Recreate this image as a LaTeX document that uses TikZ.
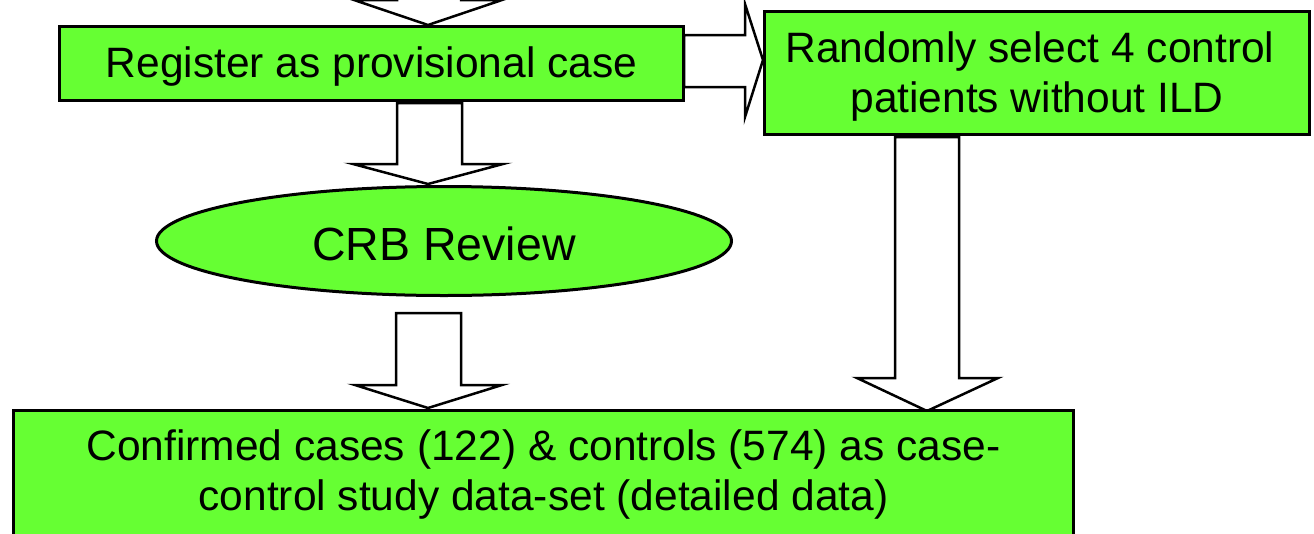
\documentclass[tikz,border=0pt]{standalone}
\usepackage{fontspec}
\setmainfont{Liberation Sans}
\usetikzlibrary{shapes.geometric}
\definecolor{boxgreen}{HTML}{66FF33}
\tikzset{
  box/.style={draw=black, line width=3pt, fill=boxgreen, inner sep=0pt, align=center, font=\fontsize{42.5}{50}\selectfont},
  oval/.style={ellipse, draw=black, line width=3pt, fill=boxgreen, inner sep=0pt, font=\fontsize{46.5}{56}\selectfont},
  blockarrow/.style={draw=black, line width=2.5pt, fill=white, line join=miter}
}
\begin{document}
\begin{tikzpicture}[x=1pt,y=-1pt]
\useasboundingbox (0,0) rectangle (1314,533);
\clip (0,0) rectangle (1314,533);
% block arrows (drawn first, boxes on top)
\draw[blockarrow] (397,-60) -- (397,0) -- (354,0) -- (428,25) -- (502,0) -- (461,0) -- (461,-60) -- cycle;
\draw[blockarrow] (397,103) -- (397,164) -- (353,164) -- (428,184) -- (503,164) -- (462,164) -- (462,103) -- cycle;
\draw[blockarrow] (396,313) -- (396,385) -- (355,385) -- (428,408) -- (502,385) -- (461,385) -- (461,313) -- cycle;
\draw[blockarrow] (895,137) -- (895,378) -- (857,378) -- (927,411) -- (998,378) -- (959,378) -- (959,137) -- cycle;
\draw[blockarrow] (684,35) -- (745,35) -- (745,4) -- (763,60) -- (745,117) -- (745,87) -- (684,87) -- cycle;
% boxes
\node[box, minimum width=624pt, minimum height=74pt, text height=30pt, text depth=3pt] (reg) at (371.5,63.5) {Register as provisional case};
\node[box, minimum width=545pt, minimum height=123pt, text height=80pt, text depth=2pt] (ctrl) at (1037,73) {Randomly select 4 control\kern14pt\\patients without ILD};
\node[oval, minimum width=575pt, minimum height=109pt, text height=38pt, text depth=0pt] (crb) at (444,241) {CRB Review};
\node[box, minimum width=1060pt, minimum height=125pt, text height=78pt, text depth=4pt] (conf) at (543.5,473) {Confirmed cases (122) \& controls (574) as case-\\control study data-set (detailed data)};
\end{tikzpicture}
\end{document}
